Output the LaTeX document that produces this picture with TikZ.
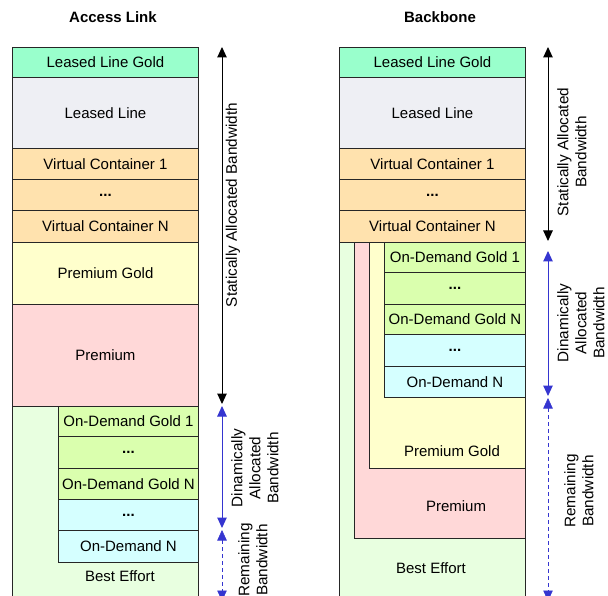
\documentclass[tikz,border=0pt]{standalone}
\usepackage{fontspec}
\setmainfont{Liberation Sans}
\usetikzlibrary{arrows.meta}
\definecolor{cLLG}{HTML}{99FFCC}
\definecolor{cLL}{HTML}{EEEFF4}
\definecolor{cVC}{HTML}{FFE2AE}
\definecolor{cPG}{HTML}{FFFFCC}
\definecolor{cPR}{HTML}{FFD8D8}
\definecolor{cBE}{HTML}{E8FFE0}
\definecolor{cODG}{HTML}{DAFFAE}
\definecolor{cOD}{HTML}{D5FFFF}
\definecolor{cBlue}{HTML}{3535D0}
\begin{document}
\begin{tikzpicture}[x=1pt,y=-1pt,
  box/.style={draw=black!85, line width=0.9pt, inner sep=0pt, anchor=north west, font=\fontsize{15}{17}\selectfont},
  lbl/.style={font=\fontsize{15}{17}\selectfont, inner sep=0pt},
  side/.style={font=\fontsize{15.3}{18}\selectfont, align=center, rotate=90, inner sep=0pt},
  ttl/.style={font=\bfseries\fontsize{15}{17}\selectfont, inner sep=0pt},
  tip/.tip={Triangle[length=10.5pt,width=9.5pt]},
  statarrow/.style={line width=1pt, tip-tip},
  dynarrow/.style={line width=1pt, color=cBlue, tip-tip},
  remarrow/.style={line width=0.6pt, color=cBlue, dash pattern=on 4pt off 3pt, tip-tip}
]
\clip (0,0) rectangle (608,596);
\fill[white] (0,0) rectangle (608,596);

% titles
\node[ttl] (tL) at (113,17) {Access Link};
\node[ttl] (tR) at (440,17) {Backbone};

% ---------- Access Link ----------
\node[box, fill=cLLG, minimum width=186pt, minimum height=30pt] (a1) at (12,47) {Leased Line Gold};
\node[box, fill=cLL,  minimum width=186pt, minimum height=71pt] (a2) at (12,77) {Leased Line};
\node[box, fill=cVC,  minimum width=186pt, minimum height=31pt] (a3) at (12,148) {Virtual Container 1};
\node[box, fill=cVC,  minimum width=186pt, minimum height=31pt] (a4) at (12,179) {\textbf{...}};
\node[box, fill=cVC,  minimum width=186pt, minimum height=32pt] (a5) at (12,210) {Virtual Container N};
\node[box, fill=cPG,  minimum width=186pt, minimum height=62pt] (a6) at (12,242) {Premium Gold};
\node[box, fill=cPR,  minimum width=186pt, minimum height=102pt] (a7) at (12,304) {Premium};
\node[box, fill=cBE,  minimum width=186pt, minimum height=200pt] (a8) at (12,406) {};
\node[lbl] (a8t) at (120,576) {Best Effort};
\node[box, fill=cODG, minimum width=140pt, minimum height=30pt] (a9) at (58,406) {On-Demand Gold 1};
\node[box, fill=cODG, minimum width=140pt, minimum height=32pt] (a10) at (58,436) {\textbf{...}};
\node[box, fill=cODG, minimum width=140pt, minimum height=31pt] (a11) at (58,468) {On-Demand Gold N};
\node[box, fill=cOD,  minimum width=140pt, minimum height=31pt] (a12) at (58,499) {\textbf{...}};
\node[box, fill=cOD,  minimum width=140pt, minimum height=32pt] (a13) at (58,530) {On-Demand N};

% ---------- Backbone ----------
\node[box, fill=cLLG, minimum width=186pt, minimum height=30pt] (b1) at (339,47) {Leased Line Gold};
\node[box, fill=cLL,  minimum width=186pt, minimum height=71pt] (b2) at (339,77) {Leased Line};
\node[box, fill=cVC,  minimum width=186pt, minimum height=31pt] (b3) at (339,148) {Virtual Container 1};
\node[box, fill=cVC,  minimum width=186pt, minimum height=31pt] (b4) at (339,179) {\textbf{...}};
\node[box, fill=cVC,  minimum width=186pt, minimum height=32pt] (b5) at (339,210) {Virtual Container N};
\node[box, fill=cBE,  minimum width=186pt, minimum height=360pt] (b6) at (339,242) {};
\node[lbl] (b6t) at (431,568) {Best Effort};
\node[box, fill=cPR,  minimum width=171pt, minimum height=296pt] (b7) at (354,242) {};
\node[lbl] (b7t) at (456,506) {Premium};
\node[box, fill=cPG,  minimum width=156pt, minimum height=226pt] (b8) at (369,242) {};
\node[lbl] (b8t) at (452,451) {Premium Gold};
\node[box, fill=cODG, minimum width=141pt, minimum height=30pt] (b9) at (384,242) {On-Demand Gold 1};
\node[box, fill=cODG, minimum width=141pt, minimum height=32pt] (b10) at (384,272) {\textbf{...}};
\node[box, fill=cODG, minimum width=141pt, minimum height=30pt] (b11) at (384,304) {On-Demand Gold N};
\node[box, fill=cOD,  minimum width=141pt, minimum height=32pt] (b12) at (384,334) {\textbf{...}};
\node[box, fill=cOD,  minimum width=141pt, minimum height=31pt] (b13) at (384,366) {On-Demand N};

% ---------- arrows ----------
\coordinate (sL1) at (222,47);
\coordinate (sL2) at (222,404);
\coordinate (dL1) at (222,406);
\coordinate (dL2) at (222,528);
\coordinate (rL1) at (222,530);
\coordinate (rL2) at (222,601);
\coordinate (sR1) at (548,47);
\coordinate (sR2) at (548,241);
\coordinate (dR1) at (548,251);
\coordinate (dR2) at (548,396);
\coordinate (rR1) at (548,398);
\coordinate (rR2) at (548,601);

\draw[statarrow] (sL1) -- (sL2);
\draw[dynarrow] (dL1) -- (dL2);
\draw[remarrow] (rL1) -- (rL2);
\draw[statarrow] (sR1) -- (sR2);
\draw[dynarrow] (dR1) -- (dR2);
\draw[remarrow] (rR1) -- (rR2);

\node[side] (lsL) at (233,205) {Statically Allocated Bandwidth};
\node[side] (ldL) at (255,468) {Dinamically\\Allocated\\Bandwidth};
\node[side] (lrL) at (253,560) {Remaining\\Bandwidth};
\node[side] (lsR) at (572,152) {Statically Allocated\\Bandwidth};
\node[side] (ldR) at (581,323) {Dinamically\\Allocated\\Bandwidth};
\node[side] (lrR) at (579,491) {Remaining\\Bandwidth};
\end{tikzpicture}
\end{document}
